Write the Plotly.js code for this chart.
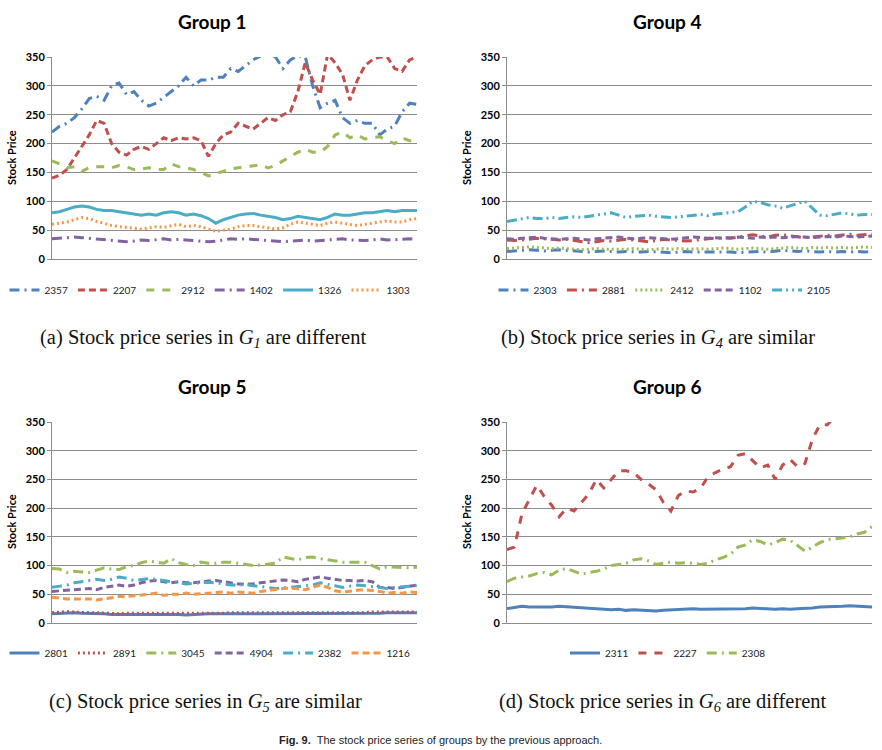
<!DOCTYPE html>
<html>
<head>
<meta charset="utf-8">
<script src="https://cdn.plot.ly/plotly-3.0.1.min.js"></script>
<style>
html,body{margin:0;padding:0;background:#fff;}
#chart{width:882px;height:750px;}
</style>
</head>
<body>
<div id="chart"></div>
<script>
// ---------- data (50 samples per series) ----------
const yTicks = [0, 50, 100, 150, 200, 250, 300, 350];

// Group 1
const g1_names = ["2357", "2207", "2912", "1402", "1326", "1303"];
const g1_2357 = [220,230,235,245,260,278,282,275,300,305,285,290,275,265,270,280,290,300,315,300,310,310,315,315,330,325,335,345,352,355,350,330,345,352,350,300,262,270,275,245,235,240,235,235,215,225,230,255,270,268];
const g1_2207 = [140,145,155,175,195,215,240,235,200,185,180,190,195,190,200,210,205,210,208,210,205,178,200,215,220,235,230,225,235,245,240,250,255,290,340,310,285,355,340,320,275,310,335,345,350,350,330,325,345,350];
const g1_2912 = [170,165,158,160,152,158,160,160,158,162,160,155,156,158,155,155,165,160,158,155,150,144,148,152,156,158,160,162,163,158,162,170,178,185,190,185,185,195,215,220,210,215,208,210,212,205,200,210,205,205];
const g1_1402 = [35,36,37,38,37,36,35,34,33,32,30,31,33,32,34,35,33,34,33,32,31,30,31,33,35,34,35,34,33,32,31,30,31,32,33,31,32,33,34,35,33,32,32,33,35,33,33,34,35,34];
const g1_1326 = [80,82,86,90,92,90,86,84,84,82,80,78,76,78,76,80,82,80,76,78,75,70,62,68,72,76,78,79,76,74,72,68,70,74,72,70,68,72,78,76,76,78,80,80,82,84,82,84,84,84];
const g1_1303 = [60,62,64,68,72,70,65,62,58,56,55,54,52,54,56,55,58,60,56,58,56,52,48,50,52,56,58,58,56,54,52,54,60,64,62,60,58,62,64,62,60,58,60,62,64,66,64,64,68,70];

// Group 4
const g4_names = ["2303", "2881", "2412", "1102", "2105"];
const g4_2303 = [13,14,15,16,15,14,15,16,15,14,13,12,13,14,13,12,13,12,12,13,12,11,11,12,13,12,12,13,12,13,12,11,12,12,13,12,14,15,14,13,14,13,12,13,12,13,12,13,12,13];
const g4_2881 = [33,32,33,35,36,35,34,33,34,32,30,28,30,32,31,32,34,33,31,30,32,34,33,32,31,32,34,35,36,37,36,38,40,42,40,38,41,42,40,38,37,38,40,41,40,42,43,41,42,43];
const g4_2412 = [18,19,20,21,20,19,18,19,18,17,16,17,18,17,17,16,17,18,17,16,17,18,17,18,17,18,18,17,18,19,18,17,18,19,18,17,18,19,20,19,18,20,19,20,19,20,19,20,21,20];
const g4_1102 = [35,34,36,37,38,36,35,34,35,36,34,33,35,36,37,38,36,35,36,37,36,35,34,35,36,38,37,36,37,36,37,38,37,36,38,37,38,37,38,39,38,37,38,39,38,40,39,38,39,40];
const g4_2105 = [65,67,70,72,70,70,72,70,72,73,72,74,76,78,80,76,72,74,75,76,74,73,72,73,74,76,77,75,78,79,80,82,90,100,98,94,92,88,92,96,100,88,76,75,78,80,78,76,77,77];

// Group 5
const g5_names = ["2801", "2891", "3045", "4904", "2382", "1216"];
const g5_2801 = [16,17,18,18,17,17,16,16,15,15,16,16,15,15,16,16,15,15,14,15,15,16,16,16,17,17,16,16,16,16,16,17,17,16,16,17,17,17,16,17,17,16,17,17,17,18,18,18,18,18];
const g5_2891 = [18,19,20,19,18,18,18,17,17,16,17,17,17,16,17,17,16,16,16,16,17,17,17,17,18,18,17,17,17,17,18,18,17,17,18,18,18,18,18,18,18,18,18,19,19,19,19,19,19,19];
const g5_3045 = [95,94,88,90,89,88,92,96,94,93,98,100,105,108,106,104,112,105,102,100,106,104,104,106,106,104,103,100,101,103,104,115,112,110,114,115,112,110,108,106,106,106,106,100,94,98,97,96,96,97];
const g5_4904 = [55,56,58,58,60,60,58,62,64,66,64,66,70,73,74,72,70,72,70,70,72,73,74,72,70,68,68,68,70,72,73,75,74,72,76,78,80,78,76,74,74,73,74,72,62,62,60,62,64,66];
const g5_2382 = [62,64,66,70,72,73,76,74,76,80,78,74,76,77,76,74,72,70,68,69,70,71,70,68,66,66,67,65,63,62,60,61,62,63,64,66,70,68,65,62,64,66,65,63,62,60,62,63,64,65];
const g5_1216 = [45,43,42,42,42,42,40,42,44,46,46,47,48,50,52,48,50,50,52,50,51,52,53,54,52,54,53,52,55,57,58,60,61,60,58,62,66,62,56,54,56,57,58,57,55,52,53,52,54,53];

// Group 6
const g6_names = ["2311", "2227", "2308"];
const g6_2311 = [25,27,29,28,28,27,28,29,28,28,27,26,25,24,23,24,22,23,22,22,21,22,23,24,24,25,24,24,25,24,24,25,25,26,25,25,24,25,24,25,25,26,28,28,29,29,30,29,28,28];
const g6_2227 = [128,132,190,215,240,220,205,185,200,195,210,225,250,235,250,265,265,262,250,242,232,210,195,222,230,228,235,255,262,268,272,292,295,282,270,275,250,275,285,272,278,320,345,345,360,370,380,385,395,400];
const g6_2308 = [72,78,80,82,86,88,84,92,95,90,85,88,90,94,100,102,104,110,112,108,102,104,106,104,105,104,102,104,110,114,120,132,136,145,142,136,140,146,144,135,125,132,140,145,146,148,150,155,158,168];

// ---------- styles ----------
const C = {blue:"#4F81BD", red:"#C0504D", green:"#9BBB59", purple:"#8064A2", teal:"#4BACC6", orange:"#F79646"};
const D = {
  solid:"solid",
  dash:"7px,4px",
  gapdash:"8px,8px",
  dot:"2px,3px",
  ldd:"10px,5px,2px,5px",
  lddd:"10px,4px,2px,4px,2px,4px"
};

const idx = g1_2357.map((_, i) => i);

function tr(name, y, color, dash, ax, leg){
  return {
    type:"scatter", mode:"lines", name:name, x:idx, y:y,
    xaxis:"x"+ax, yaxis:"y"+ax, legend:leg,
    line:{color:color, width:3, dash:dash},
    cliponaxis:true, hoverinfo:"skip"
  };
}

const data = [
  tr(g1_names[0], g1_2357, C.blue, D.ldd, "", "legend"),
  tr(g1_names[1], g1_2207, C.red, D.dash, "", "legend"),
  tr(g1_names[2], g1_2912, C.green, D.gapdash, "", "legend"),
  tr(g1_names[3], g1_1402, C.purple, D.ldd, "", "legend"),
  tr(g1_names[4], g1_1326, C.teal, D.solid, "", "legend"),
  tr(g1_names[5], g1_1303, C.orange, D.dot, "", "legend"),

  tr(g4_names[0], g4_2303, C.blue, D.ldd, "2", "legend2"),
  tr(g4_names[1], g4_2881, C.red, D.ldd, "2", "legend2"),
  tr(g4_names[2], g4_2412, C.green, D.dot, "2", "legend2"),
  tr(g4_names[3], g4_1102, C.purple, D.dash, "2", "legend2"),
  tr(g4_names[4], g4_2105, C.teal, D.lddd, "2", "legend2"),

  tr(g5_names[0], g5_2801, C.blue, D.solid, "3", "legend3"),
  tr(g5_names[1], g5_2891, C.red, D.dot, "3", "legend3"),
  tr(g5_names[2], g5_3045, C.green, D.ldd, "3", "legend3"),
  tr(g5_names[3], g5_4904, C.purple, D.dash, "3", "legend3"),
  tr(g5_names[4], g5_2382, C.teal, D.ldd, "3", "legend3"),
  tr(g5_names[5], g5_1216, C.orange, D.dash, "3", "legend3"),

  tr(g6_names[0], g6_2311, C.blue, D.solid, "4", "legend4"),
  tr(g6_names[1], g6_2227, C.red, D.gapdash, "4", "legend4"),
  tr(g6_names[2], g6_2308, C.green, D.ldd, "4", "legend4")
];

const W = 882, H = 750;
const px = v => v / W, py = v => 1 - v / H;

function xax(l, r, anchor){
  return {domain:[px(l), px(r)], range:[0, idx.length-1], anchor:anchor,
    showticklabels:false, ticks:"", showgrid:false, zeroline:false,
    showline:true, linecolor:"#8c8c8c", linewidth:1, fixedrange:true};
}
function yax(t, b, anchor){
  return {domain:[py(b), py(t)], range:[0, 350], anchor:anchor,
    tickvals:yTicks, ticks:"outside", ticklen:4, tickcolor:"#8c8c8c",
    showgrid:true, gridcolor:"#8c8c8c", gridwidth:1, zeroline:false,
    showline:true, linecolor:"#8c8c8c", linewidth:1,
    tickfont:{family:"Lato, 'Liberation Sans', sans-serif", size:11, color:"#000", weight:"bold"},
    fixedrange:true};
}

const legFont = {family:"Lato, 'Liberation Sans', sans-serif", size:10, color:"#222"};
function leg(xc, yc){
  return {orientation:"h", x:px(xc), y:py(yc), xanchor:"center", yanchor:"middle",
    font:legFont, itemwidth:30, bgcolor:"rgba(0,0,0,0)", tracegroupgap:0, itemclick:false, itemdoubleclick:false};
}

const titleFont = {family:"Lato, 'Liberation Sans', sans-serif", size:19, color:"#000", weight:"bold"};
const yTitleFont = {family:"Lato, 'Liberation Sans', sans-serif", size:11, color:"#000", weight:"bold"};
const capFont = {family:"'Liberation Serif', 'DejaVu Serif', serif", size:20.5, color:"#111"};

function ann(text, x, y, font, extra){
  return Object.assign({text:text, x:px(x), y:py(y), xref:"paper", yref:"paper",
    showarrow:false, font:font, xanchor:"center", yanchor:"middle"}, extra||{});
}

const annotations = [
  ann("Group 1", 212, 21, titleFont),
  ann("Group 4", 667, 21, titleFont),
  ann("Group 5", 212, 386, titleFont),
  ann("Group 6", 667, 386, titleFont),
  ann("Stock Price", 11, 158, yTitleFont, {textangle:-90}),
  ann("Stock Price", 466, 158, yTitleFont, {textangle:-90}),
  ann("Stock Price", 11, 522, yTitleFont, {textangle:-90}),
  ann("Stock Price", 466, 522, yTitleFont, {textangle:-90}),
  ann("(a) Stock price series in <i>G<sub>1</sub></i> are different", 203, 338, capFont),
  ann("(b) Stock price series in <i>G<sub>4</sub></i> are similar", 658, 338, capFont),
  ann("(c) Stock price series in <i>G<sub>5</sub></i> are similar", 205, 702, capFont),
  ann("(d) Stock price series in <i>G<sub>6</sub></i> are different", 663, 702, capFont),
  ann("<b>Fig. 9.</b>  The stock price series of groups by the previous approach.", 440, 740,
      {family:"'Liberation Sans', 'DejaVu Sans', sans-serif", size:11, color:"#222"})
];

const layout = {
  width:W, height:H, margin:{l:0, r:0, t:0, b:0},
  paper_bgcolor:"#fff", plot_bgcolor:"#fff", showlegend:true,
  xaxis:  xax(52, 417, "y"),
  yaxis:  yax(57, 259, "x"),
  xaxis2: xax(507, 872, "y2"),
  yaxis2: yax(57, 259, "x2"),
  xaxis3: xax(52, 417, "y3"),
  yaxis3: yax(422, 623, "x3"),
  xaxis4: xax(507, 872, "y4"),
  yaxis4: yax(422, 623, "x4"),
  legend:  leg(210, 290),
  legend2: leg(665, 290),
  legend3: leg(210, 653),
  legend4: leg(668, 653),
  annotations:annotations
};

Plotly.newPlot("chart", data, layout, {staticPlot:true, displayModeBar:false});
</script>
</body>
</html>
